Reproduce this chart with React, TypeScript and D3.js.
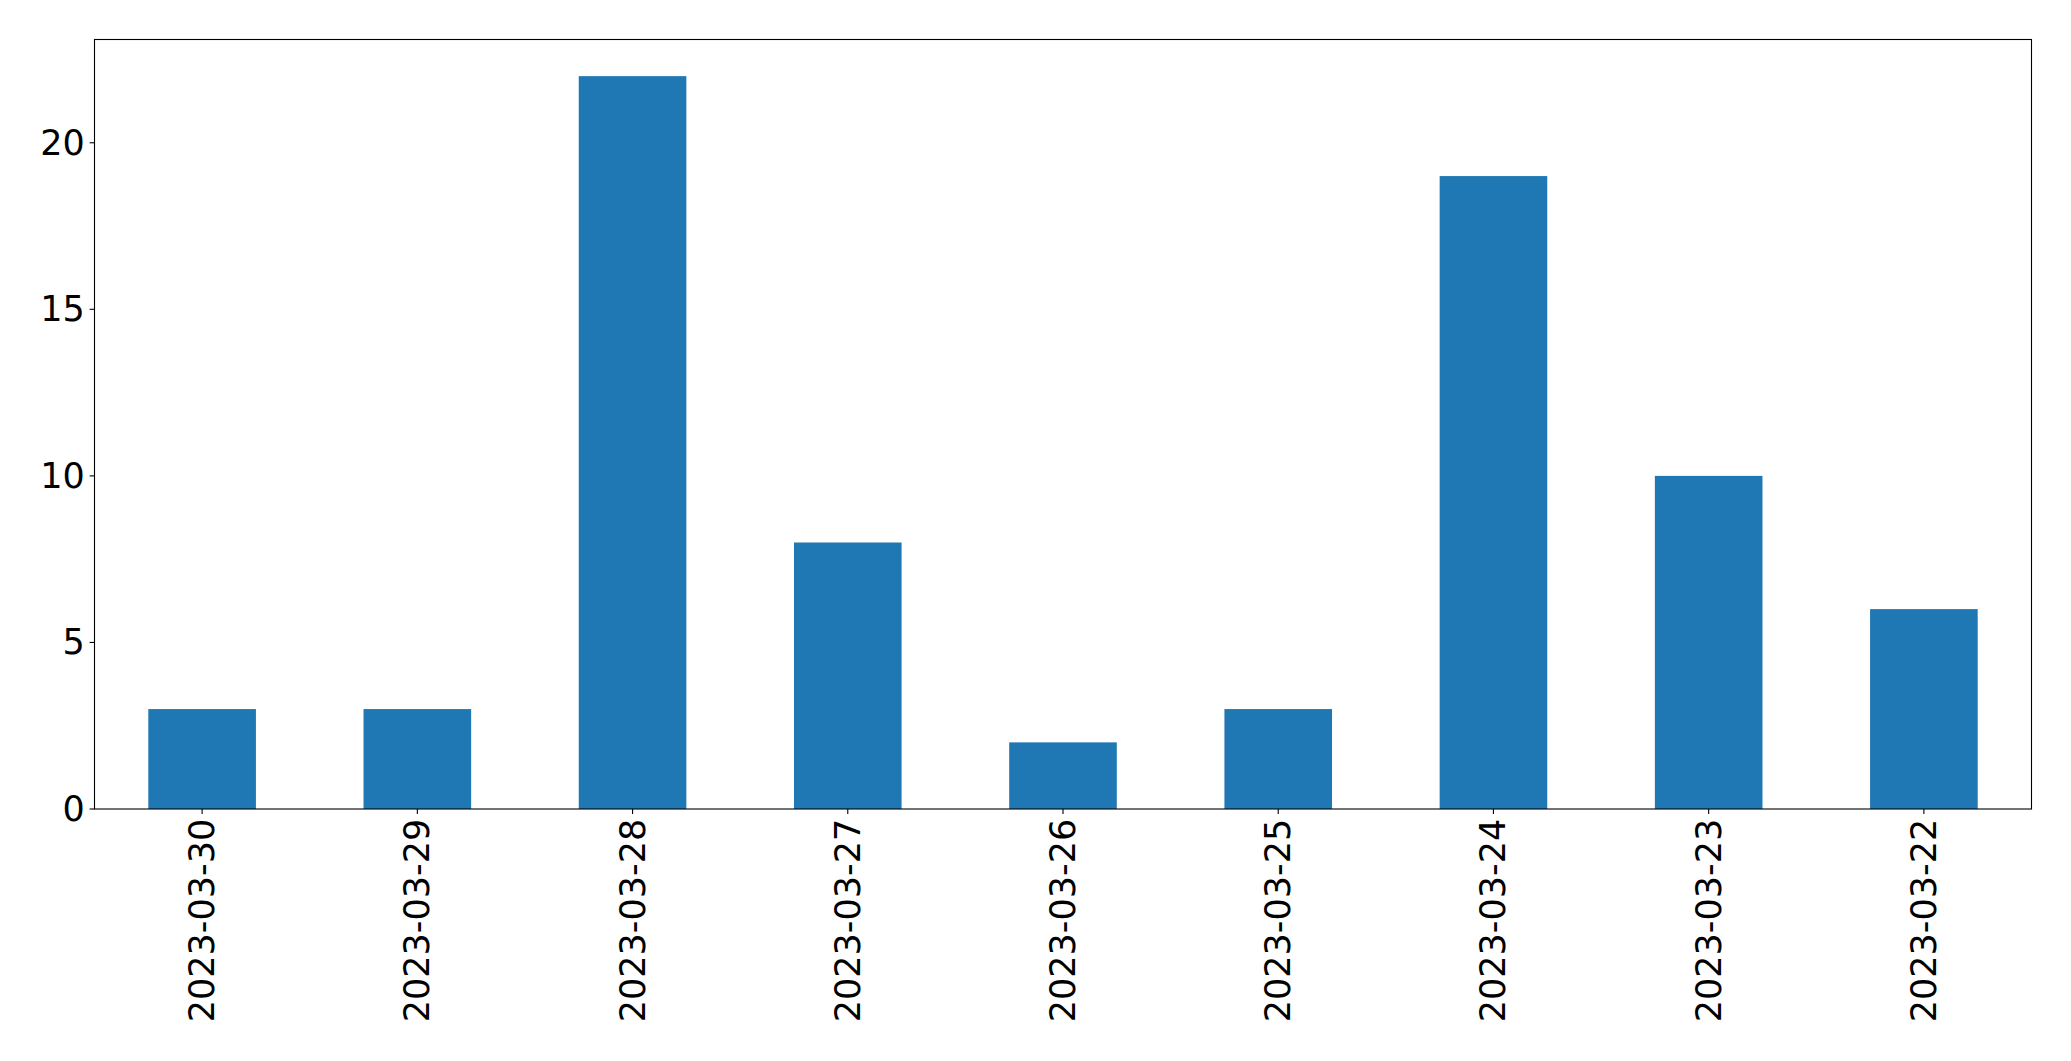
import React, { useEffect, useRef } from "react";
import * as d3 from "d3";

const categories = [
  "2023-03-30",
  "2023-03-29",
  "2023-03-28",
  "2023-03-27",
  "2023-03-26",
  "2023-03-25",
  "2023-03-24",
  "2023-03-23",
  "2023-03-22",
];
const values = [3, 3, 22, 8, 2, 3, 19, 10, 6];
const yTicks = [0, 5, 10, 15, 20];

const W = 2071;
const H = 1061;
const M = { left: 94.5, right: 2031.5, top: 39.5, bottom: 809 };
const FONT = "'DejaVu Sans', sans-serif";
const FS = 35;

export default function App() {
  const ref = useRef<SVGSVGElement | null>(null);

  useEffect(() => {
    const svg = d3.select(ref.current);
    svg.selectAll("*").remove();

    const x = d3
      .scaleLinear()
      .domain([-0.5, categories.length - 0.5])
      .range([M.left, M.right]);
    const yMax = d3.max(values)! * 1.05;
    const y = d3.scaleLinear().domain([0, yMax]).range([M.bottom, M.top]);

    svg.append("rect").attr("width", W).attr("height", H).attr("fill", "#fff");

    const bw = x(0.25) - x(-0.25);
    svg
      .append("g")
      .selectAll("rect")
      .data(values)
      .join("rect")
      .attr("x", (_d, i) => x(i) - bw / 2)
      .attr("width", bw)
      .attr("y", (d) => y(d))
      .attr("height", (d) => y(0) - y(d))
      .attr("fill", "#1f77b4");

    // frame
    svg
      .append("rect")
      .attr("x", M.left)
      .attr("y", M.top)
      .attr("width", M.right - M.left)
      .attr("height", M.bottom - M.top)
      .attr("fill", "none")
      .attr("stroke", "#000")
      .attr("stroke-width", 1.1);

    const tickLen = 4.9;
    const pad = 4.9;

    // y ticks
    const gy = svg.append("g");
    yTicks.forEach((t) => {
      gy.append("line")
        .attr("x1", M.left - tickLen)
        .attr("x2", M.left)
        .attr("y1", y(t))
        .attr("y2", y(t))
        .attr("stroke", "#000")
        .attr("stroke-width", 1.1);
      gy.append("text")
        .attr("x", M.left - tickLen - pad)
        .attr("y", y(t))
        .attr("text-anchor", "end")
        .attr("dominant-baseline", "central")
        .attr("font-family", FONT)
        .attr("font-size", FS)
        .attr("fill", "#000")
        .text(String(t));
    });

    // x ticks
    const gx = svg.append("g");
    categories.forEach((c, i) => {
      const cx = x(i);
      gx.append("line")
        .attr("x1", cx)
        .attr("x2", cx)
        .attr("y1", M.bottom)
        .attr("y2", M.bottom + tickLen)
        .attr("stroke", "#000")
        .attr("stroke-width", 1.1);
      const ty = M.bottom + tickLen + pad;
      gx.append("text")
        .attr("transform", `translate(${cx},${ty}) rotate(-90)`)
        .attr("text-anchor", "end")
        .attr("dominant-baseline", "central")
        .attr("font-family", FONT)
        .attr("font-size", FS)
        .attr("fill", "#000")
        .text(c);
    });
  }, []);

  return (
    <svg
      ref={ref}
      width={W}
      height={H}
      style={{ position: "absolute", left: 0, top: 0, display: "block" }}
    />
  );
}
